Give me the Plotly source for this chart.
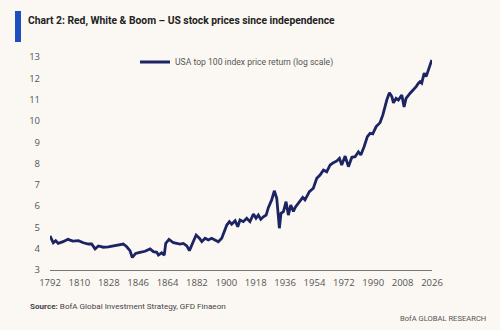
import plotly.graph_objects as go

years = [1792, 1794, 1795.5, 1797, 1800, 1803, 1806, 1809.4, 1812.4, 1815.5, 1817.5, 1819.6,
         1821.6, 1824.7, 1827.7, 1830.8, 1833.9, 1836.9, 1839, 1841, 1842.4, 1844.5, 1847.1,
         1850.2, 1853.3, 1855.3, 1857.4, 1858.4, 1860.4, 1862, 1862.9, 1864.9, 1867.6, 1871.7,
         1873.7, 1875.8, 1877.4, 1879.4, 1881.5, 1883.5, 1885, 1887, 1889, 1891, 1893.1,
         1895.1, 1897.2, 1898.6, 1900.3, 1901.9, 1903.3, 1905.4, 1907, 1908.4, 1910.4, 1912.5,
         1914.5, 1916.6, 1918.2, 1919.6, 1921.1, 1922.7, 1924.4, 1925.8, 1927.8, 1929.4,
         1930.9, 1931.9, 1932.5, 1933.5, 1935, 1936.6, 1938, 1939.5, 1941.1, 1942.3, 1944.1,
         1945.2, 1946.8, 1948.2, 1950.9, 1953.3, 1955.4, 1957.4, 1959.5, 1961.5, 1963.6,
         1965.6, 1967.7, 1969.3, 1970.7, 1972.8, 1974.8, 1976.9, 1978.9, 1980.9, 1982.4,
         1984.4, 1986.4, 1988.1, 1989.7, 1991.8, 1994.2, 1995.9, 1997.3, 1998.3, 1999.9,
         2001.4, 2002.4, 2004, 2005.4, 2007.5, 2008.9, 2010.1, 2012.6, 2014.6, 2016.3,
         2017.7, 2018.7, 2019.7, 2021.2, 2022.4, 2023.8, 2024.8, 2025.9]
values = [4.60, 4.28, 4.38, 4.25, 4.33, 4.44, 4.36, 4.38, 4.28, 4.22, 4.22, 3.99,
          4.13, 4.07, 4.09, 4.13, 4.19, 4.22, 4.09, 3.91, 3.59, 3.78, 3.83,
          3.88, 3.99, 3.86, 3.83, 3.70, 3.81, 3.70, 4.25, 4.44, 4.28, 4.22,
          4.25, 4.13, 3.91, 4.25, 4.64, 4.49, 4.33, 4.49, 4.41, 4.49, 4.41,
          4.33, 4.49, 4.80, 5.11, 5.27, 5.15, 5.31, 5.03, 5.35, 5.27, 5.43,
          5.27, 5.63, 5.43, 5.58, 5.38, 5.50, 5.58, 5.94, 6.29, 6.72,
          6.37, 5.50, 4.96, 5.66, 5.74, 6.21, 5.58, 6.05, 5.75, 5.95, 6.13,
          6.29, 6.41, 6.29, 6.68, 6.84, 7.31, 7.46, 7.69, 7.61, 7.93,
          8.04, 8.12, 8.24, 7.93, 8.35, 7.85, 8.29, 8.32, 8.55, 8.40,
          8.79, 9.26, 9.42, 9.39, 9.73, 9.92, 10.28, 10.75, 10.98, 11.32,
          11.14, 10.85, 11.06, 10.98, 11.22, 10.65, 11.06, 11.30, 11.45, 11.61,
          11.77, 11.84, 11.77, 12.24, 12.08, 12.47, 12.62, 12.86]

x_ticks = [1792, 1810, 1828, 1846, 1864, 1882, 1900, 1918, 1936, 1954, 1972, 1990, 2008, 2026]
y_ticks = [3, 4, 5, 6, 7, 8, 9, 10, 11, 12, 13]

series_name = "USA top 100 index price return (log scale)"
title = "Chart 2: Red, White & Boom – US stock prices since independence"
source = "<b>Source:</b> BofA Global Investment Strategy, GFD Finaeon"
brand = "BofA GLOBAL RESEARCH"

bg = "#fbf8f3"
navy = "#1c2463"
font = "Open Sans"
narrow = "Roboto"

# plot area in pixels: x 50..432, y 57..270
PW, PH = 382, 213


def px(xpix):
    return (xpix - 50) / PW


def py(ypix):
    return (270 - ypix) / PH


fig = go.Figure()
fig.add_trace(go.Scatter(x=years, y=values, mode="lines", name=series_name,
                         line=dict(color=navy, width=2.8)))

fig.update_layout(
    width=500, height=330,
    paper_bgcolor=bg, plot_bgcolor=bg,
    margin=dict(l=50, r=68, t=57, b=60),
    font=dict(family=font, size=9.5, color="#555555"),
    title=dict(text="<b>" + title + "</b>", xref="container", yref="container",
               x=28 / 500, y=1 - 20.5 / 330, xanchor="left", yanchor="middle",
               font=dict(size=10.3, color="#222222", family=narrow)),
    showlegend=True,
    legend=dict(x=px(135), y=py(62), xanchor="left", yanchor="middle",
                bgcolor="rgba(0,0,0,0)", font=dict(size=8.6, color="#555555", family=narrow),
                itemwidth=30),
    xaxis=dict(range=[1792, 2026], tickvals=x_ticks, ticktext=[str(t) for t in x_ticks],
               showgrid=False, zeroline=False, showline=True, linecolor="#777777",
               linewidth=1, ticks="", ticklabelstandoff=4,
               tickfont=dict(size=9.5, color="#555555")),
    yaxis=dict(range=[3, 13], tickvals=y_ticks, showgrid=False, zeroline=False,
               showline=False, ticks="", ticklabelstandoff=9,
               tickfont=dict(size=9.5, color="#555555")),
    shapes=[dict(type="rect", xref="paper", yref="paper",
                 x0=px(15), x1=px(21), y0=py(42), y1=py(11),
                 fillcolor="#1f4fbf", line=dict(width=0))],
    annotations=[
        dict(text=source, xref="paper", yref="paper",
             x=px(28), y=py(306), xanchor="left", yanchor="middle",
             showarrow=False, font=dict(size=8.1, color="#444444", family=narrow)),
        dict(text=brand, xref="paper", yref="paper",
             x=px(488), y=py(318), xanchor="right", yanchor="middle",
             showarrow=False, font=dict(size=7.6, color="#555555", family=narrow)),
    ],
)

fig.write_html("out.html")
